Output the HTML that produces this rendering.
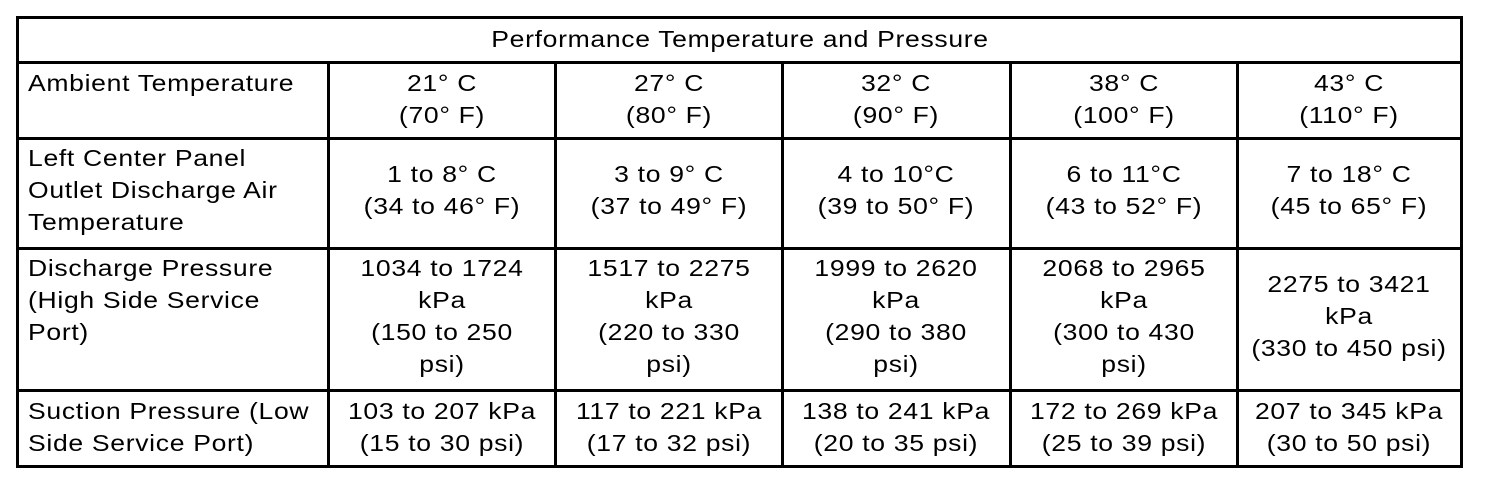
<!DOCTYPE html>
<html><head><meta charset="utf-8"><style>
html,body{margin:0;padding:0;background:#fff;}
svg{display:block;}
text{font-family:"Liberation Sans",Arial,sans-serif;font-size:23.5px;fill:#000;letter-spacing:0.6px;}
.c{text-anchor:middle;}
</style></head><body>
<svg width="1504" height="484" viewBox="0 0 1504 484">
<g fill="#000">
<rect x="16" y="16" width="1447" height="3"/>
<rect x="16" y="465" width="1447" height="3"/>
<rect x="16" y="16" width="3" height="452"/>
<rect x="1460" y="16" width="3" height="452"/>
<rect x="16" y="61" width="1447" height="3"/>
<rect x="16" y="137" width="1447" height="3"/>
<rect x="16" y="247" width="1447" height="3"/>
<rect x="16" y="389" width="1447" height="3"/>
<rect x="327" y="61" width="3" height="407"/>
<rect x="554" y="61" width="3" height="407"/>
<rect x="781" y="61" width="3" height="407"/>
<rect x="1009" y="61" width="3" height="407"/>
<rect x="1236" y="61" width="3" height="407"/>
</g>
<text class="c" transform="translate(740,47) scale(1.13,1)">Performance Temperature and Pressure</text>
<text class="c" transform="translate(442,91) scale(1.13,1)">21° C</text><text class="c" transform="translate(442,123) scale(1.13,1)">(70° F)</text>
<text class="c" transform="translate(669,91) scale(1.13,1)">27° C</text><text class="c" transform="translate(669,123) scale(1.13,1)">(80° F)</text>
<text class="c" transform="translate(896,91) scale(1.13,1)">32° C</text><text class="c" transform="translate(896,123) scale(1.13,1)">(90° F)</text>
<text class="c" transform="translate(1124,91) scale(1.13,1)">38° C</text><text class="c" transform="translate(1124,123) scale(1.13,1)">(100° F)</text>
<text class="c" transform="translate(1349,91) scale(1.13,1)">43° C</text><text class="c" transform="translate(1349,123) scale(1.13,1)">(110° F)</text>
<text class="c" transform="translate(442,182) scale(1.13,1)">1 to 8° C</text><text class="c" transform="translate(442,214) scale(1.13,1)">(34 to 46° F)</text>
<text class="c" transform="translate(669,182) scale(1.13,1)">3 to 9° C</text><text class="c" transform="translate(669,214) scale(1.13,1)">(37 to 49° F)</text>
<text class="c" transform="translate(896,182) scale(1.13,1)">4 to 10°C</text><text class="c" transform="translate(896,214) scale(1.13,1)">(39 to 50° F)</text>
<text class="c" transform="translate(1124,182) scale(1.13,1)">6 to 11°C</text><text class="c" transform="translate(1124,214) scale(1.13,1)">(43 to 52° F)</text>
<text class="c" transform="translate(1349,182) scale(1.13,1)">7 to 18° C</text><text class="c" transform="translate(1349,214) scale(1.13,1)">(45 to 65° F)</text>
<text class="c" transform="translate(442,276) scale(1.13,1)">1034 to 1724</text><text class="c" transform="translate(442,308) scale(1.13,1)">kPa</text><text class="c" transform="translate(442,340) scale(1.13,1)">(150 to 250</text><text class="c" transform="translate(442,372) scale(1.13,1)">psi)</text>
<text class="c" transform="translate(669,276) scale(1.13,1)">1517 to 2275</text><text class="c" transform="translate(669,308) scale(1.13,1)">kPa</text><text class="c" transform="translate(669,340) scale(1.13,1)">(220 to 330</text><text class="c" transform="translate(669,372) scale(1.13,1)">psi)</text>
<text class="c" transform="translate(896,276) scale(1.13,1)">1999 to 2620</text><text class="c" transform="translate(896,308) scale(1.13,1)">kPa</text><text class="c" transform="translate(896,340) scale(1.13,1)">(290 to 380</text><text class="c" transform="translate(896,372) scale(1.13,1)">psi)</text>
<text class="c" transform="translate(1124,276) scale(1.13,1)">2068 to 2965</text><text class="c" transform="translate(1124,308) scale(1.13,1)">kPa</text><text class="c" transform="translate(1124,340) scale(1.13,1)">(300 to 430</text><text class="c" transform="translate(1124,372) scale(1.13,1)">psi)</text>
<text class="c" transform="translate(1349,292) scale(1.13,1)">2275 to 3421</text><text class="c" transform="translate(1349,324) scale(1.13,1)">kPa</text><text class="c" transform="translate(1349,356) scale(1.13,1)">(330 to 450 psi)</text>
<text class="c" transform="translate(442,419) scale(1.13,1)">103 to 207 kPa</text><text class="c" transform="translate(442,451) scale(1.13,1)">(15 to 30 psi)</text>
<text class="c" transform="translate(669,419) scale(1.13,1)">117 to 221 kPa</text><text class="c" transform="translate(669,451) scale(1.13,1)">(17 to 32 psi)</text>
<text class="c" transform="translate(896,419) scale(1.13,1)">138 to 241 kPa</text><text class="c" transform="translate(896,451) scale(1.13,1)">(20 to 35 psi)</text>
<text class="c" transform="translate(1124,419) scale(1.13,1)">172 to 269 kPa</text><text class="c" transform="translate(1124,451) scale(1.13,1)">(25 to 39 psi)</text>
<text class="c" transform="translate(1349,419) scale(1.13,1)">207 to 345 kPa</text><text class="c" transform="translate(1349,451) scale(1.13,1)">(30 to 50 psi)</text>
<text transform="translate(28,91) scale(1.13,1)">Ambient Temperature</text>
<text transform="translate(28,166) scale(1.13,1)">Left Center Panel</text>
<text transform="translate(28,198) scale(1.13,1)">Outlet Discharge Air</text>
<text transform="translate(28,230) scale(1.13,1)">Temperature</text>
<text transform="translate(28,276) scale(1.13,1)">Discharge Pressure</text>
<text transform="translate(28,308) scale(1.13,1)">(High Side Service</text>
<text transform="translate(28,340) scale(1.13,1)">Port)</text>
<text transform="translate(28,419) scale(1.13,1)">Suction Pressure (Low</text>
<text transform="translate(28,451) scale(1.13,1)">Side Service Port)</text>
</svg>
</body></html>
